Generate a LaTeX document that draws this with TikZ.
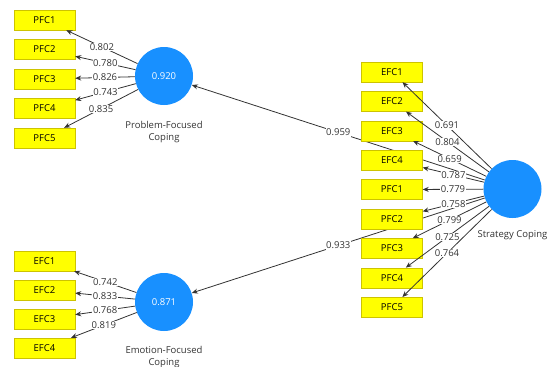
\documentclass[tikz,border=0pt]{standalone}
\usepackage{fontspec}
\setmainfont{Open Sans}
\usetikzlibrary{arrows.meta, backgrounds}
\definecolor{itemyellow}{RGB}{255,255,0}
\definecolor{itemborder}{RGB}{205,195,0}
\definecolor{latentblue}{RGB}{24,144,255}

\begin{document}
\begin{tikzpicture}[x=1pt, y=-1pt,
    item/.style={draw=itemborder, fill=itemyellow, minimum width=61pt, minimum height=20pt, inner sep=0pt, font=\fontsize{9.5}{11}\selectfont},
    latent/.style={circle, fill=latentblue, minimum size=58pt, inner sep=0pt, text=white, font=\fontsize{9.5}{11}\selectfont},
    load/.style={-{Stealth[length=6pt, width=5pt]}, black!80, line width=0.8pt},
    coef/.style={fill=white, inner sep=0.6pt, text=black!80, font=\fontsize{9.5}{11}\selectfont},
    caption/.style={align=center, text=black!80, font=\fontsize{9.5}{11.5}\selectfont}]
    \useasboundingbox (0,0) rectangle (550,367);

    % Latent variables
    \node[latent] (pfc) at (164,76) {0.920};
    \node[caption] (pfclab) at (164,132) {Problem-Focused\\Coping};
    \node[latent] (efc) at (164,302) {0.871};
    \node[caption] (efclab) at (164,357) {Emotion-Focused\\Coping};
    \node[latent] (sc) at (512.5,189) {};
    \node[caption] (sclab) at (512.5,235) {Strategy Coping};

    % Indicators, left side
    \foreach \i in {1,...,5}
        \node[item] (lpfc\i) at (44.5,{20+29.5*(\i-1)}) {PFC\i};
    \foreach \i in {1,...,4}
        \node[item] (lefc\i) at (44.5,{261+29*(\i-1)}) {EFC\i};

    % Indicators, right side
    \foreach \i in {1,...,4}
        \node[item] (refc\i) at (392,{72+29.4*(\i-1)}) {EFC\i};
    \foreach \i in {1,...,5}
        \node[item] (rpfc\i) at (392,{72+29.4*(\i+3)}) {PFC\i};

    % Outer loadings
    \foreach \i/\v in {1/0.802, 2/0.780, 3/0.826, 4/0.743, 5/0.835}
        \draw[load] (pfc) -- node[coef] {\v} (lpfc\i);
    \foreach \i/\v in {1/0.742, 2/0.833, 3/0.768, 4/0.819}
        \draw[load] (efc) -- node[coef] {\v} (lefc\i);
    \foreach \i/\v in {1/0.691, 2/0.804, 3/0.659, 4/0.787}
        \draw[load] (sc) -- node[coef] {\v} (refc\i);
    \foreach \i/\v in {1/0.779, 2/0.758, 3/0.799, 4/0.725, 5/0.764}
        \draw[load] (sc) -- node[coef] {\v} (rpfc\i);

    % Path coefficients
    \begin{pgfonlayer}{background}
        \draw[load] (sc) -- node[coef] {0.959} (pfc);
        \draw[load] (sc) -- node[coef] {0.933} (efc);
    \end{pgfonlayer}
\end{tikzpicture}
\end{document}
